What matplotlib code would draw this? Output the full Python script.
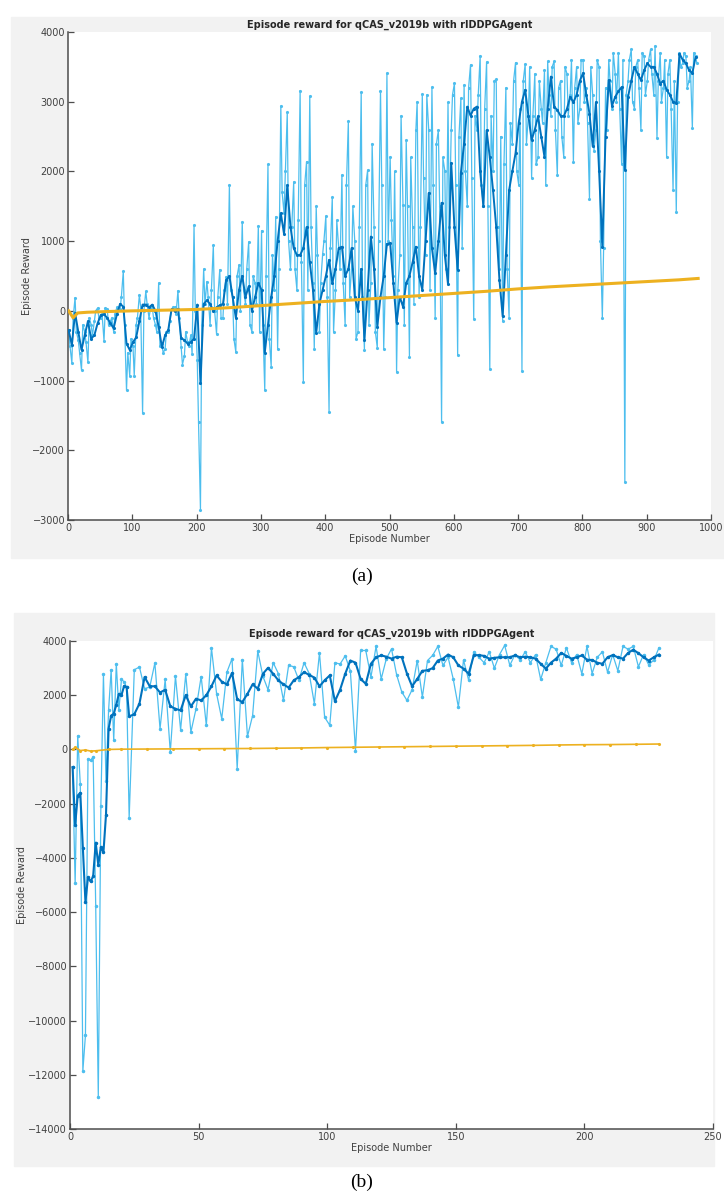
import numpy as np
import matplotlib
matplotlib.use("Agg")
import matplotlib.pyplot as plt
from matplotlib.patches import Rectangle

# ---------------- panel (a) data ----------------
# raw episode reward read every 5 episodes (1, 6, 11, ...)
a_raw_ep = list(range(1, 981, 5))
a_raw = [
    -280, -750, 190, -420, -850, -300, -740, -200, -150, 40,
    -100, -430, 30, -150, -300, 50, 20, 570, -1140, -930,
    -500, -200, 230, -1470, 280, -100, 60, -200, 400, -480,
    -550, -300, 20, 50, 290, -520, -650, -450, -350, 1230,
    -700, -2850, 600, 420, -200, 940, -330, 590, -100, 490,
    1810, 200, -590, 660, 1280, 100, 990, -300, 400, 1220,
    1150, -1140, 2100, -800, 300, -545, 2940, 1400, 2850, 600,
    1850, 300, 3160, -1015, 2140, 3080, 400, 1500, -300, 810,
    1360, -1450, 1630, 300, 900, 1950, -200, 2720, 600, 1000,
    -300, 3140, -560, 2020, 400, 1200, -530, 3160, -550, 3410,
    2210, 500, -870, 800, 1520, 2450, -655, 1200, 2590, 200,
    3110, 800, 2600, 3210, -100, 2590, -1600, 2010, 2990, 2590,
    3265, -630, 3050, 3240, 1500, 3530, -115, 2600, 3660, 1500,
    3570, -830, 2000, 3320, 600, -140, 3200, -100, 2400, 3560,
    1800, -860, 3540, 2800, 1900, 3400, 2200, 2900, 3450, 3580,
    2800, 3580, 1950, 3300, 2210, 3400, 3100, 2130, 3500, 2900,
    3600, 3200, 1610, 3100, 2600, 3500, -100, 3200, 3600, 2900,
    3400, 3700, 2110, -2450, 3300, 3750, 2900, 3600, 2590, 3650,
    3300, 3750, 3100, 2480, 3700, 3200, 2200, 3600, 1730, 1420,
    3700, 3550, 3650, 3300, 2620, 3650,
]
# raw episode reward for the episodes in between (3, 8, 13, ...)
a_raw_ep2 = list(range(3, 981, 5))
a_raw2 = [
    -500, -100, -300, -600, -200, -450, -100, -350, 0, -100,
    -50, 40, -200, -100, -50, 30, 200, -200, -600, -400,
    -930, -100, 50, 0, 100, 20, -100, -300, -500, -600,
    -300, -150, 50, -50, -100, -770, -300, -500, -620, 0,
    -1600, -200, 100, 200, 300, 0, 200, -100, 300, 100,
    300, -400, 500, 0, 300, 600, -200, 500, 100, -300,
    -200, 500, -400, 800, 1350, 600, 1700, 2000, 1000, 1200,
    600, 1300, 700, 1800, 300, 1200, -550, 800, 400, 1000,
    200, 900, -300, 1300, 600, 400, 1800, 200, 1500, -400,
    1200, 200, 1800, -200, 2400, -300, 1000, 1800, 200, 1000,
    1300, 2000, 300, 2800, -200, 1500, 2200, 100, 3000, 1200,
    1900, 3100, 300, 1800, 2400, 1500, 2200, 600, 1200, 3100,
    1800, 2500, 900, 2000, 3200, 1900, 2800, 3100, 1800, 2900,
    1500, 2800, 3300, 1200, 2500, 2100, 600, 2700, 3300, 2000,
    2900, 3300, 2400, 3500, 2800, 2100, 3300, 2700, 1800, 3100,
    3500, 2600, 3200, 2500, 3500, 2800, 3600, 3200, 2700, 3600,
    3000, 2700, 3500, 2300, 3600, 1000, 900, 2600, 3300, 3700,
    3000, 2900, 3600, 3100, 3600, 3000, 3500, 3200, 3700, 3100,
    3600, 3400, 3800, 3300, 3000, 3600, 3400, 2900, 3300, 3000,
    3500, 3700, 3200, 3500, 3700, 3550,
]
# average reward, every 5 episodes
a_avg = [
    -280, -490, -30, -300, -560, -350, -150, -400, -350, -180,
    -60, -50, -100, -180, -250, -50, 100, 60, -470, -560,
    -450, -380, -150, 90, 90, 50, 90, 0, -230, -520,
    -350, -270, 20, 0, 30, -390, -420, -470, -450, -400,
    90, -1040, 100, 150, 100, 0, 50, 80, 100, 440,
    500, 200, -100, 300, 500, 200, 350, 0, 200, 400,
    300, -600, -200, 200, 500, 1000, 1400, 1100, 1800, 1200,
    900, 800, 800, 900, 1200, 700, 300, -320, 100, 300,
    500, 730, 400, 600, 900, 920, 500, 600, 900, 200,
    0, 600, -420, 300, 1065, 600, -230, 200, 500, 960,
    970, 400, -170, 200, 60, 400, 500, 700, 920, 500,
    300, 1000, 1690, 900, 540, 1000, 1550, 800, 380, 2120,
    1200, 590, 1980, 2400, 2930, 2800, 2900, 2930, 2000, 1500,
    2590, 2200, 1730, 1200, 440, -80, 800, 1730, 2000, 2260,
    2700, 3000, 3170, 2800, 2450, 2600, 2790, 2500, 2210, 2900,
    3360, 2930, 2880, 2800, 2790, 2900, 3070, 2990, 3100, 3300,
    3410, 3100, 2830, 2360, 2990, 2000, 920, 2500, 3310, 2940,
    3070, 3150, 3210, 2020, 3070, 3300, 3500, 3400, 3310, 3450,
    3550, 3500, 3500, 3400, 3260, 3300, 3170, 3100, 3000, 2980,
    3690, 3600, 3550, 3450, 3410, 3640,
]
a_q0_ep = [1, 8, 15, 30, 60, 100, 150, 200, 250, 300, 350, 400, 450,
           500, 550, 600, 650, 700, 750, 800, 850, 900, 950, 980]
a_q0 = [0, -100, -30, -20, -10, 0, 10, 20, 45, 75, 105, 135, 160,
        190, 220, 250, 280, 315, 345, 370, 395, 420, 445, 465]

# ---------------- panel (b) data ----------------
b_ep = list(range(1, 23)) + list(range(23, 230, 2))
b_raw = [
    -650, -4940, 500, -1290, -11850, -10550, -350, -400, -280, -5780,
    -12810, -2070, 2770, -1180, 1440, 2940, 330, 3160, 1440, 2580,
    2500, 2300,
    -2520, 2940, 3040, 2240, 2300, 3190, 760, 2580, -100, 2700,
    725, 2770, 640, 1500, 2690, 885, 3740, 2050, 1130, 2850,
    3350, -710, 3310, 480, 1250, 3630, 2700, 2200, 3200, 2800,
    1810, 3100, 3050, 2550, 3200, 2800, 1690, 3560, 1190, 890,
    3200, 3150, 3450, 2900, -40, 3650, 3650, 2670, 3800, 2600,
    3350, 3710, 2750, 2120, 1810, 2200, 3280, 1930, 3280, 3470,
    3800, 3100, 3400, 2600, 1560, 3300, 2550, 3600, 3400, 3200,
    3600, 3000, 3500, 3840, 3100, 3500, 3300, 3600, 3200, 3500,
    2580, 3200, 3800, 3700, 3100, 3750, 3200, 3500, 2790, 3800,
    2800, 3400, 3600, 2850, 3500, 2900, 3800, 3700, 3800, 3050,
    3500, 3120, 3300, 3750,
]
b_avg = [
    -650, -2800, -1700, -1600, -3640, -5620, -4710, -4870, -4680, -3440,
    -4260, -3600, -3800, -2400, 760, 1250, 1320, 1650, 2050, 2000,
    2330, 2300,
    1220, 1300, 1690, 2670, 2330, 2330, 2100, 2200, 1590, 1500,
    1440, 2000, 1590, 1870, 1810, 2000, 2330, 2730, 2500, 2400,
    2820, 1850, 1750, 2050, 2400, 2240, 2790, 3010, 2790, 2550,
    2400, 2280, 2550, 2670, 2850, 2750, 2650, 2330, 2550, 2730,
    1780, 2200, 2790, 3280, 3200, 2600, 2420, 3160, 3400, 3470,
    3420, 3350, 3420, 3400, 2800, 2330, 2600, 2900, 2920, 3000,
    3280, 3350, 3500, 3400, 3100, 2980, 2790, 3470, 3480, 3450,
    3350, 3380, 3400, 3400, 3400, 3470, 3400, 3420, 3400, 3350,
    3160, 2980, 3200, 3350, 3560, 3450, 3350, 3400, 3470, 3310,
    3300, 3200, 3160, 3400, 3480, 3400, 3350, 3560, 3680, 3550,
    3400, 3280, 3400, 3500,
]
b_q0_ep = [1, 2, 4, 6, 8, 10, 15, 20, 30, 40, 50, 60, 70, 80, 90, 100,
           110, 120, 130, 140, 150, 160, 170, 180, 190, 200, 210, 220, 229]
b_q0 = [0, 80, -40, -20, -60, -50, 0, 10, 15, 20, 25, 30, 35, 45, 55, 70,
        80, 90, 100, 110, 120, 130, 140, 150, 165, 175, 180, 190, 200]

title = "Episode reward for qCAS_v2019b with rlDDPGAgent"

c_raw = "#4DBEEE"
c_avg = "#0072BD"
c_q0 = "#EDB120"
txt = "#404040"

# put the two raw readings of panel (a) in episode order
a_pairs = sorted(zip(a_raw_ep + a_raw_ep2, a_raw + a_raw2))
a_all_ep = [p[0] for p in a_pairs]
a_all = [p[1] for p in a_pairs]

W, H = 724, 1198
fig = plt.figure(figsize=(W / 100, H / 100), dpi=100)
fig.patch.set_facecolor("white")

# gray figure backgrounds (MATLAB window look), kept behind the axes
fig.patches.append(Rectangle((11 / W, 1 - 558 / H), 713 / W, 541 / H,
                             transform=fig.transFigure, color="#f2f2f2", zorder=-5))
fig.patches.append(Rectangle((14 / W, 1 - 1166 / H), 700 / W, 553 / H,
                             transform=fig.transFigure, color="#f2f2f2", zorder=-5))


def style(ax, ypad):
    ax.set_facecolor("white")
    for s in ["top", "right"]:
        ax.spines[s].set_visible(False)
    for s in ["left", "bottom"]:
        ax.spines[s].set_color("#4d4d4d")
        ax.spines[s].set_linewidth(1.1)
    ax.tick_params(direction="in", length=4, width=0.9, colors="#4d4d4d",
                   labelsize=7, labelcolor=txt, pad=2)
    ax.set_title(title, fontsize=7, fontweight="bold", color="#262626", pad=3)
    ax.set_xlabel("Episode Number", fontsize=7, color=txt, labelpad=1)
    ax.set_ylabel("Episode Reward", fontsize=7, color=txt, labelpad=ypad)


# panel (a)
ax1 = fig.add_axes([68 / W, 1 - 520 / H, 643 / W, 488 / H], zorder=1)
ax1.plot(a_all_ep, a_all, color=c_raw, lw=0.9, marker=".", ms=2.5, zorder=2)
ax1.plot(a_raw_ep, a_avg, color=c_avg, lw=1.4, marker=".", ms=2.5, zorder=3)
ax1.plot(a_q0_ep, a_q0, color=c_q0, lw=2.2, zorder=4)
ax1.set_xlim(0, 1000)
ax1.set_ylim(-3000, 4000)
ax1.set_xticks(range(0, 1001, 100))
ax1.set_yticks(range(-3000, 4001, 1000))
style(ax1, 0)

# panel (b)
ax2 = fig.add_axes([70 / W, 1 - 1129 / H, 643 / W, 488 / H], zorder=1)
ax2.plot(b_ep, b_raw, color=c_raw, lw=0.9, marker=".", ms=3, zorder=2)
ax2.plot(b_ep, b_avg, color=c_avg, lw=1.5, marker=".", ms=3, zorder=3)
ax2.plot(b_q0_ep, b_q0, color=c_q0, lw=1.2, marker=".", ms=2.5, zorder=4)
ax2.set_xlim(0, 250)
ax2.set_ylim(-14000, 4000)
ax2.set_xticks(range(0, 251, 50))
ax2.set_yticks(range(-14000, 4001, 2000))
style(ax2, 1)

fig.text(362 / W, 1 - 576 / H, "(a)", fontsize=14, family="Liberation Serif",
         ha="center", va="center", color="black")
fig.text(362 / W, 1 - 1182 / H, "(b)", fontsize=14, family="Liberation Serif",
         ha="center", va="center", color="black")

fig.savefig("out.png", dpi=100)
